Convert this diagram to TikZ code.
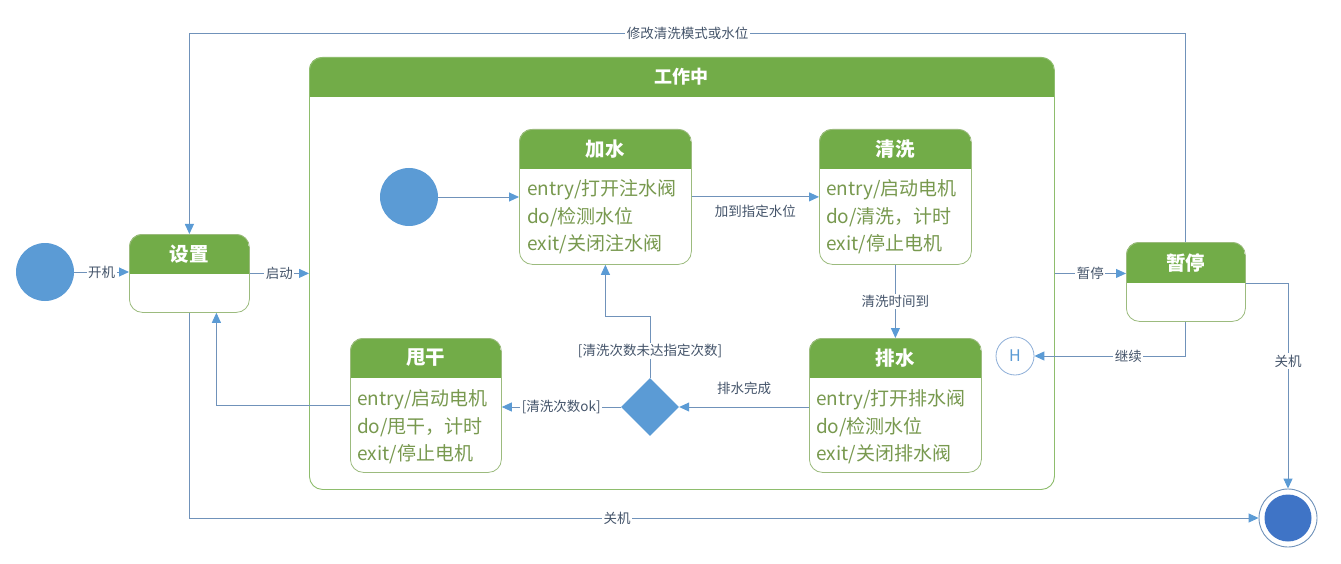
\documentclass[tikz,border=0pt]{standalone}
\usepackage{fontspec}
\setmainfont{Noto Sans CJK SC}
\usetikzlibrary{arrows.meta,shapes.geometric,calc}
\definecolor{hdr}{HTML}{72AC48}
\definecolor{bdr}{HTML}{9CBB7E}
\definecolor{bodyc}{HTML}{78994F}
\definecolor{connc}{HTML}{7092BA}
\definecolor{tipc}{HTML}{5B9BD5}
\definecolor{lblc}{HTML}{44546A}
\definecolor{dotc}{HTML}{5B9BD5}
\definecolor{hc}{HTML}{8EAFD8}
\definecolor{finc}{HTML}{3F74C6}
\tikzset{
  conn/.style={draw=connc, line width=0.9pt, -{Triangle[length=10pt,width=9pt,color=tipc]}},
  lbl/.style={fill=white, text=lblc, font=\fontsize{13.5}{15}\selectfont, inner sep=1.5pt},
  hdrtext/.style={text=white, font=\fontsize{19.5}{22}\selectfont\bfseries},
  bodytext/.style={text=bodyc, font=\fontsize{19}{22}\selectfont, anchor=west, inner sep=0pt},
  dot/.style={circle, fill=dotc, minimum size=58pt, inner sep=0pt},
}
\newcommand\umlstate[8]{%
  \begin{scope}
    \clip[rounded corners=13pt] (#2,#3) rectangle (#4,#5);
    \fill[hdr] (#2,#3) rectangle (#4,#3+#6);
  \end{scope}
  \node[draw=bdr, line width=0.8pt, rounded corners=13pt, inner sep=0pt,
        minimum width={#4-#2}, minimum height={#5-#3}, anchor=north west] (#1) at (#2,#3) {};
  \node[hdrtext] (#1-t) at ({(#2+#4)/2},{#3+#6/2}) {#7};
  #8
}
\newcommand\bodylines[6]{%
  \node[bodytext] (#1-a) at (#2,#3) {#4};
  \node[bodytext] (#1-b) at (#2,#3+27) {#5};
  \node[bodytext] (#1-c) at (#2,#3+54) {#6};
}
\begin{document}
\begin{tikzpicture}[x=1pt,y=-1pt]
\useasboundingbox (0,0) rectangle (1341,564);
\fill[white] (0,0) rectangle (1341,564);

% composite state
\begin{scope}
  \clip[rounded corners=13pt] (309,57) rectangle (1054,489);
  \fill[hdr] (309,57) rectangle (1054,97);
\end{scope}
\node[draw=hdr!80!white, line width=0.9pt, rounded corners=13pt, inner sep=0pt,
      minimum width=745, minimum height=432, anchor=north west] (comp) at (309,57) {};
\node[hdrtext, font=\fontsize{18}{22}\selectfont\bfseries] (comp-t) at (681,77) {工作中};

% states
\umlstate{set}{129}{234}{249}{312}{40}{设置}{}
\umlstate{pause}{1126}{242}{1245}{321}{41}{暂停}{}
\umlstate{js}{519}{129}{691}{264}{40}{加水}{\bodylines{js}{527}{190}{entry/打开注水阀}{do/检测水位}{exit/关闭注水阀}}
\umlstate{qx}{819}{129}{971}{264}{40}{清洗}{\bodylines{qx}{826}{190}{entry/启动电机}{do/清洗，计时}{exit/停止电机}}
\umlstate{px}{809}{338}{981}{472}{40}{排水}{\bodylines{px}{816}{400}{entry/打开排水阀}{do/检测水位}{exit/关闭排水阀}}
\umlstate{sg}{350}{338}{501}{472}{40}{甩干}{\bodylines{sg}{357}{400}{entry/启动电机}{do/甩干，计时}{exit/停止电机}}

% pseudo states
\node[dot] (init0) at (45,272) {};
\node[dot] (init1) at (409,197) {};
\node[diamond, fill=dotc, minimum width=58pt, minimum height=58pt, inner sep=0pt] (dia) at (650,407) {};
\node[circle, draw=hc, line width=0.8pt, minimum size=38pt, inner sep=0pt, text=tipc,
      font=\fontsize{16}{18}\selectfont] (hist) at (1015,356) {H};
\node[circle, draw=connc, line width=0.9pt, minimum size=58pt, inner sep=0pt] (fin) at (1288,518) {};
\node[circle, fill=finc, minimum size=47pt, inner sep=0pt] (fin-in) at (fin) {};

% helper coordinates
\coordinate (topy) at (0,33);
\coordinate (setb) at ($(set.south)+(27,0)$);
\coordinate (paur) at ($(pause.north east)+(0,41)$);
\coordinate (loopc) at ($(js.south)+(0,52)$);

% transitions
\draw[conn] (init0.east) -- node[lbl] {开机} (init0.east -| set.west);
\draw[conn] (set.east) -- node[lbl] {启动} (set.east -| comp.west);
\draw[conn] (pause.north) |- node[lbl, pos=0.75] {修改清洗模式或水位} (topy -| set.north) -- (set.north);
\draw[conn] (init1.east) -- (init1.east -| js.west);
\draw[conn] (js.east) -- node[lbl, below=6pt, fill=none] {加到指定水位} (qx.west);
\draw[conn] (qx.south) -- node[lbl] {清洗时间到} (qx.south |- px.north);
\draw[conn] (dia.east -| px.west) -- node[lbl, above=10pt, fill=none] {排水完成} (dia.east);
\draw[conn] (dia.north) |- node[lbl, pos=0.22] {[清洗次数未达指定次数]} (loopc) -- (js.south);
\draw[conn] (dia.west) -- node[lbl] {[清洗次数ok]} (dia.west -| sg.east);
\draw[conn] (sg.west) -| (setb);
\draw[conn] (set.south) |- node[lbl, pos=0.70] {关机} (fin.west);
\draw[conn] (comp.east) -- node[lbl] {暂停} (comp.east -| pause.west);
\draw[conn] (pause.south) |- node[lbl, pos=0.69] {继续} (hist.east);
\draw[conn] (paur) -| node[lbl, pos=0.69] {关机} (fin.north);
\end{tikzpicture}
\end{document}
